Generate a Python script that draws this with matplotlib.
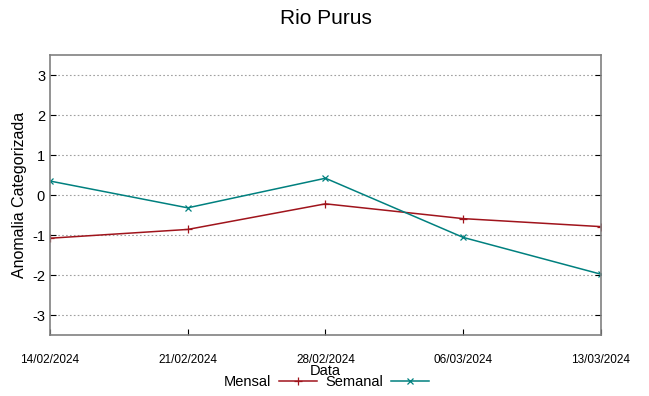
import matplotlib.pyplot as plt

datas = ["14/02/2024", "21/02/2024", "28/02/2024", "06/03/2024", "13/03/2024"]
mensal = [-1.08, -0.86, -0.22, -0.59, -0.79]
semanal = [0.35, -0.32, 0.42, -1.06, -1.98]

plt.rcParams['font.family'] = ['Liberation Sans', 'DejaVu Sans']
plt.rcParams['axes.unicode_minus'] = False

fig = plt.figure(figsize=(6.49, 3.96), dpi=100)
ax = fig.add_axes([0.077, 0.154, 0.849, 0.707])

x = list(range(len(datas)))
ax.plot(x, mensal, color='#a0141c', lw=1.1, marker='+', ms=6, mew=0.9, label='Mensal')
ax.plot(x, semanal, color='#00807f', lw=1.1, marker='x', ms=4.5, mew=0.9, label='Semanal')

ax.set_xlim(0, 4)
ax.set_ylim(-3.5, 3.5)
ax.set_yticks([-3, -2, -1, 0, 1, 2, 3])
ax.set_xticks(x)
ax.set_xticklabels(datas, fontsize=8.5, fontstretch='condensed')
ax.tick_params(axis='y', labelsize=10.5, direction='in', right=True, length=4)
ax.tick_params(axis='x', direction='in', length=4, pad=14)
ax.grid(axis='y', color='#a0a0a0', linestyle=(0, (1.5, 2)), lw=0.8)
for s in ax.spines.values():
    s.set_color('#808080')
    s.set_linewidth(1.2)

ax.set_title('Rio Purus', fontsize=15, pad=22)
ax.set_ylabel('Anomalia Categorizada', fontsize=11.5)
ax.set_xlabel('Data', fontsize=10.5, labelpad=-2)

fig.legend(loc='center', bbox_to_anchor=(0.503, 0.035), ncol=2, frameon=False,
           markerfirst=False, fontsize=10.5, handlelength=2.6, columnspacing=0.6,
           handletextpad=0.5)

fig.savefig('out.png', dpi=100)
